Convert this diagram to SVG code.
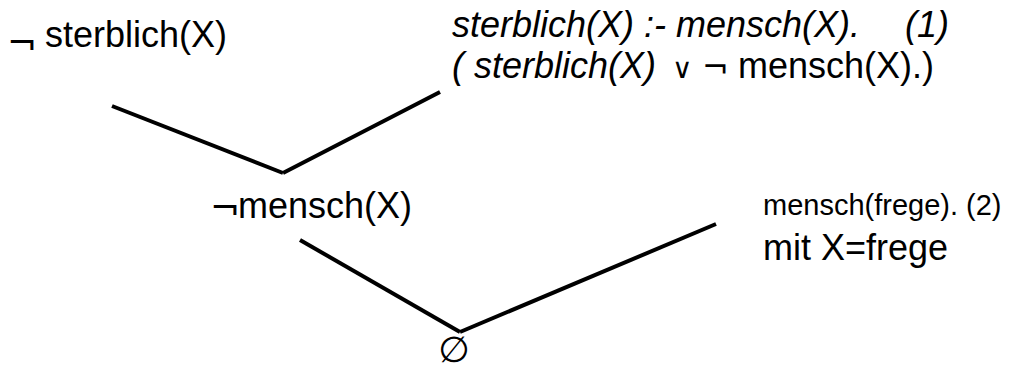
<svg xmlns="http://www.w3.org/2000/svg" width="1021" height="369" viewBox="0 0 1021 369">
<style>
  text { font-family: "Liberation Sans", Arial, "DejaVu Sans", sans-serif; fill: #000; font-size: 36px; }
  .it { font-style: italic; }
  .sm { font-size: 29px; }
  .sym { font-family: "DejaVu Sans", sans-serif; }
  .edge { stroke: #000; stroke-width: 4; fill: none; stroke-linecap: butt; }
</style>
<rect width="1021" height="369" fill="#fff"/>
<g id="connectors">
  <line class="edge" x1="112" y1="106" x2="283" y2="173"/>
  <line class="edge" x1="283" y1="173" x2="440" y2="92"/>
  <line class="edge" x1="300" y1="240" x2="460" y2="332"/>
  <line class="edge" x1="460" y1="332" x2="716" y2="224"/>
</g>
<g id="node-neg-sterblich">
  <text x="7" y="55" class="sym" font-size="32">¬</text>
  <text x="45" y="47">sterblich(X)</text>
</g>
<g id="node-clause1">
  <text x="452" y="37" class="it">sterblich(X) :- mensch(X).<tspan x="905">(1)</tspan></text>
  <text x="452" y="78"><tspan class="it">( sterblich(X)</tspan><tspan class="sym" font-size="28" x="672">∨</tspan><tspan class="sym" font-size="32" x="702">¬</tspan><tspan x="738">mensch(X).)</tspan></text>
</g>
<g id="node-neg-mensch">
  <text x="210" y="220" class="sym" font-size="32">¬</text>
  <text x="238" y="218">mensch(X)</text>
</g>
<g id="node-fact2">
  <text x="763" y="215" class="sm">mensch(frege). (2)</text>
  <text x="763" y="260">mit X=frege</text>
</g>
<g id="node-empty">
  <text x="454" y="362" class="sym" font-size="30" text-anchor="middle">∅</text>
</g>
</svg>
